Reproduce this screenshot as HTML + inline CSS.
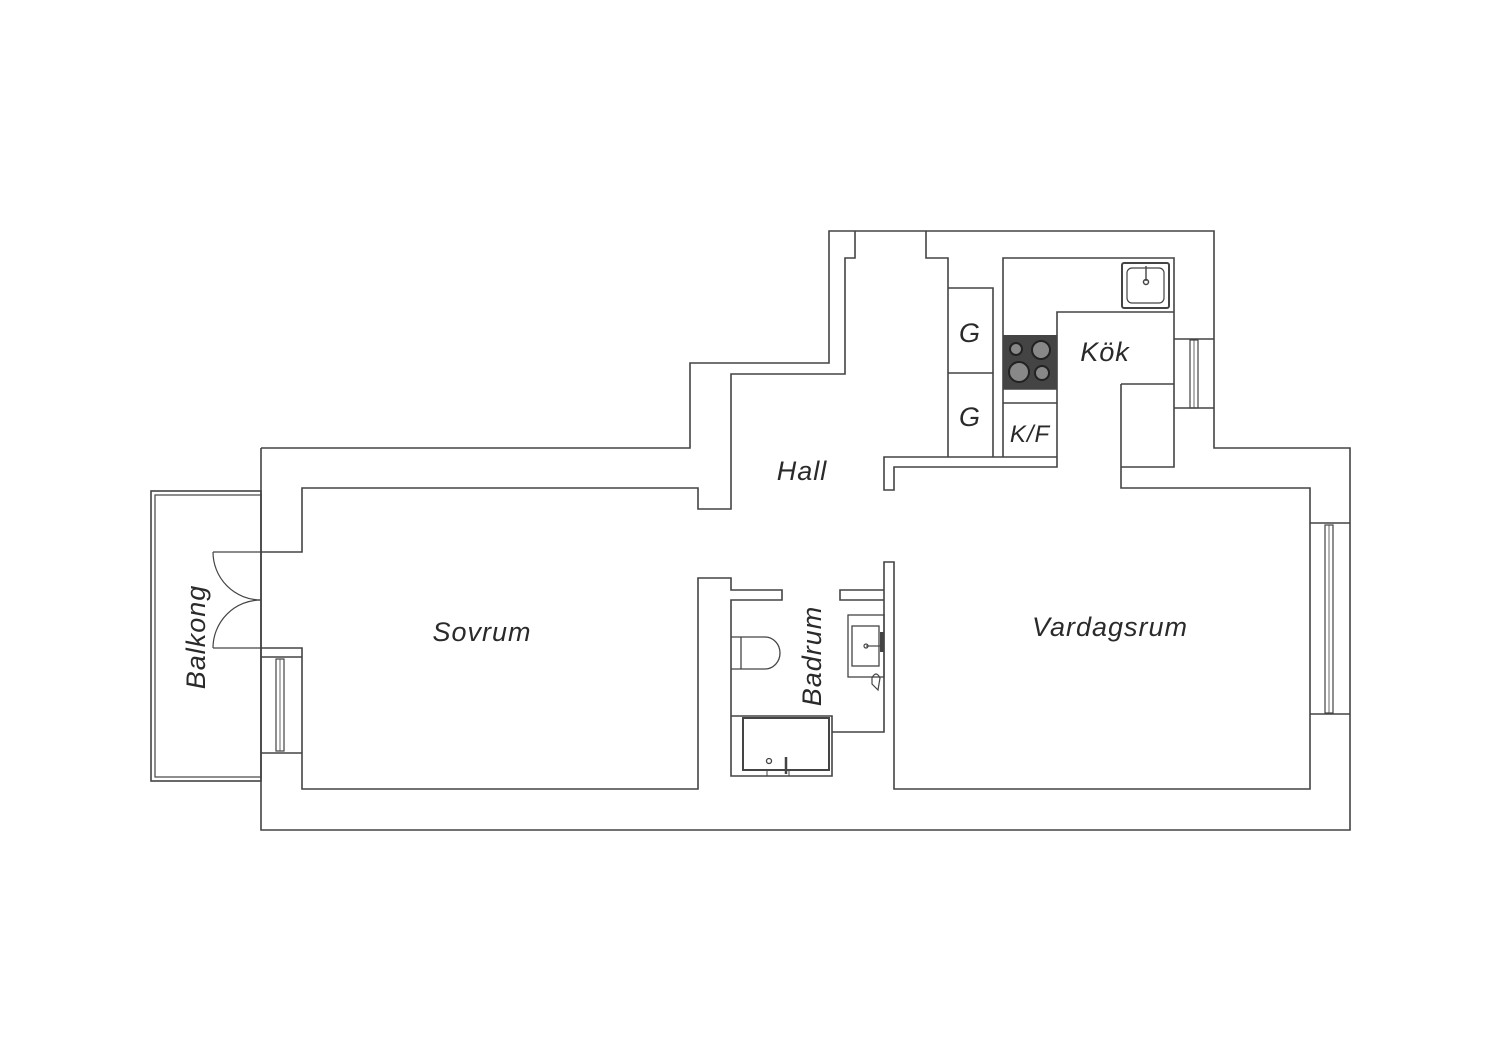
<!DOCTYPE html>
<html><head><meta charset="utf-8"><style>
html,body{margin:0;padding:0;background:#fff;}
svg{display:block;}
text{font-family:"Liberation Sans",sans-serif;font-style:italic;fill:#2a2a2a;letter-spacing:1px;}
</style></head><body>
<svg width="1500" height="1060" viewBox="0 0 1500 1060" xmlns="http://www.w3.org/2000/svg">
<g fill="none" stroke="#444" stroke-width="1.6">
<polyline points="261,448 690,448 690,363 829,363 829,231 1214,231 1214,448 1350,448 1350,830 261,830 261,448"/>
<polyline points="261,552 302,552 302,488 698,488 698,509 731,509 731,374 845,374 845,258 855,258 855,231"/>
<polyline points="926,231 926,258 948,258 948,457"/>
<polyline points="948,288 993,288 993,457"/>
<line x1="948" y1="373" x2="993" y2="373"/>
<polyline points="948,457 1057,457"/>
<polyline points="948,457 884,457 884,490 894,490 894,467 1057,467 1057,312 1174,312"/>
<polyline points="1003,457 1003,258 1174,258 1174,467 1121,467"/>
<polyline points="1121,384 1174,384"/>
<polyline points="1121,384 1121,488 1310,488 1310,789 894,789 894,562 884,562 884,732 832,732"/>
<line x1="1003" y1="403" x2="1057" y2="403"/>
<line x1="1003" y1="389" x2="1057" y2="389"/>
<polyline points="1174,339 1214,339"/>
<polyline points="1174,408 1214,408"/>
<rect x="1190" y="340" width="8" height="68" stroke-width="1.2"/>
<line x1="1194" y1="340" x2="1194" y2="408" stroke-width="0.8"/>
<line x1="1310" y1="523" x2="1350" y2="523"/>
<line x1="1310" y1="714" x2="1350" y2="714"/>
<rect x="1325" y="525" width="8" height="188" stroke-width="1.2"/>
<line x1="1329" y1="525" x2="1329" y2="713" stroke-width="0.8"/>
<polyline points="261,648 302,648 302,789 698,789 698,578 731,578 731,590 782,590 782,600 731,600 731,776 832,776 832,716 731,716"/>
<polyline points="884,590 840,590 840,600 884,600"/>
<line x1="261" y1="657" x2="302" y2="657"/>
<line x1="261" y1="753" x2="302" y2="753"/>
<rect x="276" y="659" width="8" height="92" stroke-width="1.2"/>
<line x1="280" y1="659" x2="280" y2="751" stroke-width="0.8"/>
<rect x="151" y="491" width="110" height="290"/>
<rect x="155" y="495" width="106" height="282" stroke-width="1.2"/>
<line x1="213" y1="552" x2="261" y2="552" stroke-width="1.2"/>
<line x1="213" y1="648" x2="261" y2="648" stroke-width="1.2"/>
<path d="M213,552 A48,48 0 0 0 261,600" stroke-width="1.2"/>
<path d="M213,648 A48,48 0 0 1 261,600" stroke-width="1.2"/>
<path d="M731,637 L765,637 A15,16 0 0 1 765,669 L731,669" stroke-width="1.3"/>
<line x1="741" y1="637" x2="741" y2="669" stroke-width="1.3"/>
<rect x="743" y="718" width="86" height="52" stroke-width="2"/>
<circle cx="769" cy="761" r="2.5" stroke-width="1.3"/>
<line x1="786" y1="757" x2="786" y2="774" stroke-width="2.5"/>
<rect x="767" y="770" width="22" height="6" stroke-width="1"/>
<rect x="848" y="615" width="36" height="62" stroke-width="1.3"/>
<rect x="852" y="626" width="27" height="40" stroke-width="1.3"/>
<line x1="866" y1="646" x2="880" y2="646" stroke-width="1.2"/>
<circle cx="866" cy="646" r="2" stroke-width="1.2"/>
<rect x="880" y="632" width="4" height="20" fill="#444" stroke="none"/>
<path d="M872,678 Q876,670 880,678 L878,690 L872,684 Z" stroke-width="1.2"/>
<rect x="1122" y="263" width="47" height="45" rx="2" stroke-width="2"/>
<rect x="1127" y="268" width="37" height="35" rx="5" stroke-width="1.2"/>
<line x1="1146" y1="266" x2="1146" y2="281" stroke-width="1.4"/>
<circle cx="1146" cy="282" r="2.5" stroke-width="1.5"/>
</g>
<rect x="1003" y="335" width="54" height="54" fill="#444"/>
<g stroke="#222" stroke-width="2" fill="#888">
<circle cx="1016" cy="349" r="6"/>
<circle cx="1041" cy="350" r="9"/>
<circle cx="1019" cy="372" r="10"/>
<circle cx="1042" cy="373" r="7"/>
</g>
<g font-size="27">
<text x="802" y="480" text-anchor="middle">Hall</text>
<text x="482" y="641" text-anchor="middle">Sovrum</text>
<text x="1110" y="636" text-anchor="middle">Vardagsrum</text>
<text x="1105" y="361" text-anchor="middle">Kök</text>
<text x="970" y="342" text-anchor="middle">G</text>
<text x="970" y="426" text-anchor="middle">G</text>
<text x="1030" y="442" text-anchor="middle" font-size="24">K/F</text>
<text transform="translate(821,656) rotate(-90)" text-anchor="middle">Badrum</text>
<text transform="translate(205,637) rotate(-90)" text-anchor="middle">Balkong</text>
</g>
</svg>
</body></html>
